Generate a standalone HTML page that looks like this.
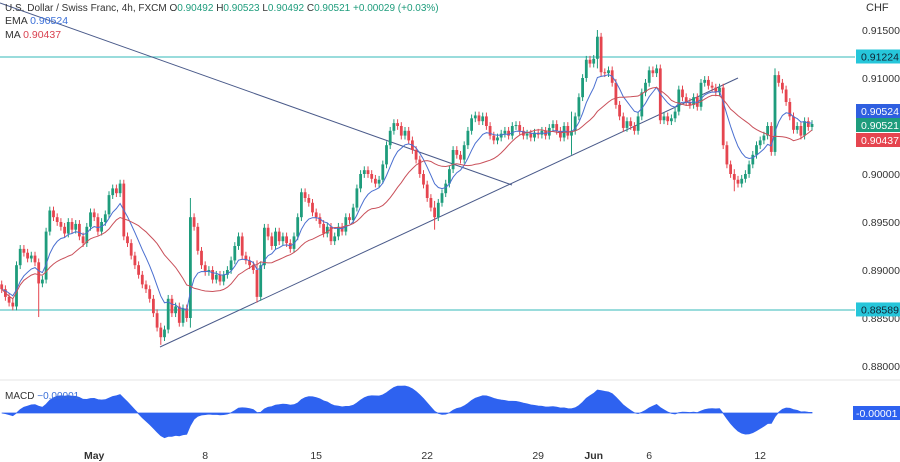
<!DOCTYPE html>
<html><head><meta charset="utf-8"><style>
body{margin:0;background:#fff;font-family:"Liberation Sans",sans-serif;}
svg{display:block}
</style></head><body>
<svg id="chart" width="900" height="462" xmlns="http://www.w3.org/2000/svg" font-family="Liberation Sans, sans-serif">
<rect width="900" height="462" fill="#fff"/>
<line x1="0" y1="380" x2="900" y2="380" stroke="#e6e6e6"/>
<g id="grid"></g>
<line x1="0" y1="57" x2="855" y2="57" stroke="#5cc8c8" stroke-width="1.2"/>
<line x1="0" y1="310" x2="855" y2="310" stroke="#5cc8c8" stroke-width="1.2"/>
<line x1="0" y1="3" x2="512" y2="185" stroke="#4a5a8a" stroke-width="1"/>
<line x1="160" y1="347" x2="738" y2="78" stroke="#4a5a8a" stroke-width="1"/>
<g id="candles"></g>
<g id="lines"></g>
<g id="macd"></g>
<g id="axis"></g>
<text x="5" y="11" font-size="10" fill="#333">U.S. Dollar / Swiss Franc, 4h, FXCM <tspan>O</tspan><tspan fill="#1e9c7c">0.90492</tspan> H<tspan fill="#1e9c7c">0.90523</tspan> L<tspan fill="#1e9c7c">0.90492</tspan> C<tspan fill="#1e9c7c">0.90521</tspan> <tspan fill="#1e9c7c">+0.00029 (+0.03%)</tspan></text>
<text x="5" y="24" font-size="10.5" fill="#333">EMA <tspan fill="#3a6fd8">0.90524</tspan></text>
<text x="5" y="38" font-size="10.5" fill="#333">MA <tspan fill="#d9414f">0.90437</tspan></text>
<text x="5" y="399" font-size="10" fill="#333">MACD <tspan fill="#3a6fd8">−0.00001</tspan></text>
<text x="866" y="11" font-size="11" fill="#333">CHF</text>
</svg>
<script>
const closes=[0.8880,0.8872,0.8866,0.8862,0.8905,0.8922,0.8918,0.8912,0.8915,0.8908,
0.8886,0.8890,0.8940,0.8962,0.8955,0.8950,0.8945,0.8938,0.8950,0.8942,
0.8948,0.8935,0.8928,0.8945,0.8960,0.8955,0.8940,0.8950,0.8958,0.8978,
0.8985,0.8980,0.8990,0.8935,0.8928,0.8915,0.8905,0.8895,0.8885,0.8880,
0.8870,0.8855,0.8840,0.8830,0.8838,0.8870,0.8855,0.8862,0.8845,0.8860,
0.8850,0.8955,0.8945,0.8920,0.8905,0.8898,0.8900,0.8890,0.8895,0.8888,
0.8895,0.8900,0.8910,0.8925,0.8935,0.8915,0.8910,0.8905,0.8900,0.8872,
0.8905,0.8944,0.8935,0.8925,0.8940,0.8930,0.8935,0.8928,0.8922,0.8935,
0.8955,0.8981,0.8975,0.8970,0.8960,0.8955,0.8948,0.8938,0.8945,0.8930,
0.8935,0.8945,0.8940,0.8955,0.8952,0.8965,0.8985,0.9000,0.9004,0.9000,
0.8995,0.8990,0.8994,0.9010,0.9030,0.9045,0.9053,0.9050,0.9040,0.9045,
0.9035,0.9025,0.9015,0.9000,0.8989,0.8975,0.8965,0.8955,0.8970,0.8980,
0.8990,0.9005,0.9025,0.9020,0.9015,0.9030,0.9045,0.9058,0.9061,0.9055,
0.9060,0.9050,0.9040,0.9035,0.9038,0.9042,0.9045,0.9040,0.9050,0.9051,
0.9045,0.9040,0.9042,0.9038,0.9043,0.9041,0.9045,0.9040,0.9048,0.9052,
0.9045,0.9038,0.9050,0.9040,0.9045,0.9060,0.9080,0.9100,0.9119,0.9115,
0.9120,0.9143,0.9106,0.9105,0.9108,0.9095,0.9072,0.9060,0.9048,0.9055,
0.9050,0.9045,0.9060,0.9085,0.9095,0.9108,0.9105,0.9110,0.9056,0.9060,
0.9055,0.9058,0.9065,0.9088,0.9080,0.9075,0.9072,0.9080,0.9070,0.9095,
0.9098,0.9092,0.9090,0.9085,0.9090,0.9030,0.9010,0.9000,0.8994,0.8990,
0.8995,0.9000,0.9010,0.9020,0.9030,0.9035,0.9040,0.9050,0.9023,0.9103,
0.9095,0.9088,0.9075,0.9060,0.9046,0.9050,0.9040,0.9055,0.9049,0.90521];
const wickIdx=[10,43,51,69,117,154,161,198,209];
const wickLow=[0.8851,0.8822,0.8840,0.8866,0.8942,0.9020,0.9110,0.8982,0.9020];
const wickHigh=[0.8895,0.8845,0.8975,0.8910,0.8972,0.9065,0.9150,0.9005,0.9110];
const priceTicks=[0.915,0.910,0.905,0.900,0.895,0.890,0.885,0.880];
const dateLabels=["May","8","15","22","29","Jun","6","12"];
const dateIndex=[25,55,85,115,145,160,175,205];

const NS="http://www.w3.org/2000/svg";
const N=closes.length, step=3.7, lastX=812;
const xOf=i=>lastX-(N-1-i)*step;
const yOf=p=>30+(0.915-p)*9600;
function mk(tag,attrs,parent){const e=document.createElementNS(NS,tag);for(const k in attrs)e.setAttribute(k,attrs[k]);parent.appendChild(e);return e;}
const cg=document.getElementById('candles');
for(let i=0;i<N;i++){
  const c=closes[i], o=i?closes[i-1]:0.8885;
  let hi=Math.max(o,c)+0.0004, lo=Math.min(o,c)-0.0004;
  const w=wickIdx.indexOf(i);
  if(w>=0){hi=Math.max(hi,wickHigh[w]);lo=Math.min(lo,wickLow[w]);}
  const col=c>=o?"#1e9c7c":"#e5454f";
  const x=xOf(i);
  const g=mk('g',{},cg);
  
  
  mk('line',{x1:x,x2:x,y1:yOf(hi),y2:yOf(lo),stroke:col,'stroke-width':1},g);
  const yt=yOf(Math.max(o,c)), yb=yOf(Math.min(o,c));
  mk('rect',{x:x-1.4,y:yt,width:2.8,height:Math.max(1,yb-yt),fill:col},g);
}
const ema=[],ma=[];const k=2/(9+1);
for(let i=0;i<N;i++){ema.push(i?closes[i]*k+ema[i-1]*(1-k):closes[0]);
  const s=closes.slice(Math.max(0,i-19),i+1);ma.push(s.reduce((a,b)=>a+b,0)/s.length);}
const lg=document.getElementById('lines');
const pathOf=arr=>arr.map((v,i)=>(i?'L':'M')+xOf(i).toFixed(1)+' '+yOf(v).toFixed(1)).join(' ');
const em=mk('path',{d:pathOf(ema),fill:'none',stroke:'#4a6fd0','stroke-width':1},lg);


const mm=mk('path',{d:pathOf(ma),fill:'none',stroke:'#c9505a','stroke-width':1},lg);


const e12=[],e26=[];
for(let i=0;i<N;i++){e12.push(i?closes[i]*2/13+e12[i-1]*11/13:closes[0]);e26.push(i?closes[i]*2/27+e26[i-1]*25/27:closes[0]);}
const macd=e12.map((v,i)=>v-e26[i]);
const mx=Math.max(...macd.map(Math.abs));
const my=v=>413-v/mx*27;
let d='M'+xOf(0)+' 413 '+macd.map((v,i)=>'L'+xOf(i).toFixed(1)+' '+my(v).toFixed(1)).join(' ')+' L'+xOf(N-1)+' 413 Z';
const mg=document.getElementById('macd');
const ma2=mk('path',{d:d,fill:'#2e62f0',stroke:'#2e62f0','stroke-width':0.8},mg);


const ag=document.getElementById('axis');
priceTicks.forEach(p=>{const t=mk('text',{x:862,y:yOf(p)+4,'font-size':10.5,fill:'#333'},ag);t.textContent=p.toFixed(5);

});
dateLabels.forEach((s,j)=>{const t=mk('text',{x:xOf(dateIndex[j]),y:459,'font-size':10.5,fill:'#333','text-anchor':'middle','font-weight':s==='May'||s==='Jun'?'bold':'normal'},ag);t.textContent=s;

});
const boxes=[[0.91224,'#26c6da','#123'],[0.88589,'#26c6da','#123'],[0.90524,'#2f5fe0','#fff',111],[0.90521,'#1e9c7c','#fff',125],[0.90437,'#e5454f','#fff',140]];
boxes.forEach(b=>{const y=b[3]||yOf(b[0]);
  const g=mk('g',{},ag);
  
  
  mk('rect',{x:856,y:y-7,width:44,height:14,fill:b[1]},g);
  const t=mk('text',{x:861,y:y+4,'font-size':10.5,fill:b[2]},g);t.textContent=b[0].toFixed(5);});
const g2=mk('g',{},ag);


mk('rect',{x:853,y:406,width:47,height:14,fill:'#2e62f0'},g2);
const t2=mk('text',{x:856,y:417,'font-size':10.5,fill:'#fff'},g2);t2.textContent='-0.00001';
</script>
</body></html>
